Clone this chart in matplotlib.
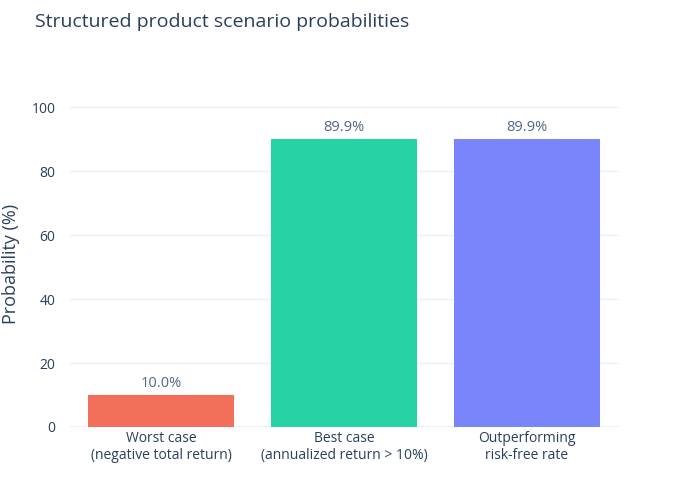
import matplotlib
matplotlib.use("Agg")
import matplotlib.pyplot as plt

plt.rcParams['font.family'] = ['Open Sans', 'DejaVu Sans']

categories = ["Worst case\n(negative total return)",
              "Best case\n(annualized return > 10%)",
              "Outperforming\nrisk-free rate"]
probabilities = [10.0, 89.9, 89.9]
bar_labels = ["10.0%", "89.9%", "89.9%"]
colors = ["#F36F5A", "#26D3A3", "#7A85FB"]
yticks = [0, 20, 40, 60, 80, 100]

text_color = "#2a3f5f"

fig = plt.figure(figsize=(7, 5), dpi=100)
ax = fig.add_axes([69.5 / 700, 73 / 500, 549 / 700, 327 / 500])

x = list(range(len(categories)))
ax.bar(x, probabilities, width=0.8, color=colors, zorder=2)
for xi, v, lab in zip(x, probabilities, bar_labels):
    ax.annotate(lab, (xi, v), xytext=(0, 3), textcoords="offset points",
                ha="center", va="bottom", fontsize=10.5, color="#506784")

ax.set_xlim(-0.5, 2.5)
ax.set_ylim(0, 102.2)
ax.set_yticks(yticks)
ax.set_xticks(x)
ax.set_xticklabels(categories, fontsize=10, color=text_color, linespacing=1.15)
ax.tick_params(axis="y", labelsize=10, colors=text_color, length=0, pad=10)
ax.tick_params(axis="x", length=0, pad=3, colors=text_color)
ax.grid(axis="y", color="#ebf0f8", linewidth=1, zorder=0)
ax.axhline(0, color="#ebf0f8", linewidth=2, zorder=1)
for s in ax.spines.values():
    s.set_visible(False)
ax.set_ylabel("Probability (%)", fontsize=13, color=text_color, labelpad=8)

fig.text(35 / 700, 1 - 22 / 500, "Structured product scenario probabilities",
         fontsize=14, color=text_color, va="center", ha="left")

fig.savefig("out.png", dpi=100, facecolor="white")
